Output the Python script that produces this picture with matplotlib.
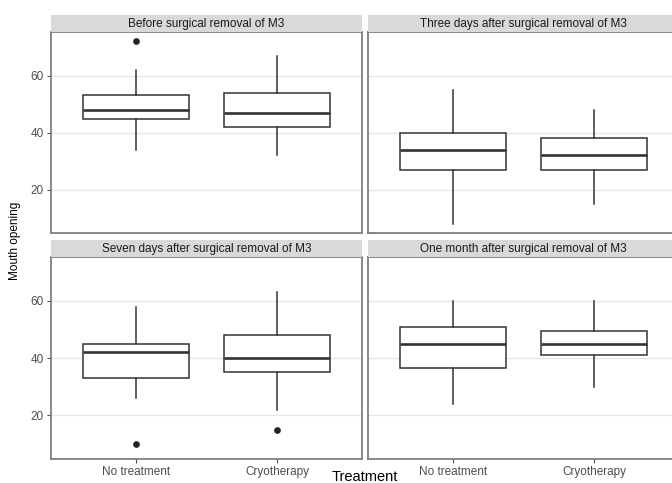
import matplotlib
matplotlib.use("Agg")
import matplotlib.pyplot as plt

# Panel titles and treatment groups
panels = ["Before surgical removal of M3",
          "Three days after surgical removal of M3",
          "Seven days after surgical removal of M3",
          "One month after surgical removal of M3"]
groups = ["No treatment", "Cryotherapy"]

# Box statistics per panel: [No treatment, Cryotherapy]
whislo = [[34, 32], [8, 15], [26, 22], [24, 30]]
q1 = [[44.8, 42], [27, 27], [33, 35], [36.7, 41]]
med = [[48, 47], [34, 32], [42, 40], [45, 45]]
q3 = [[53.3, 54], [40, 38], [45, 48], [51, 49.5]]
whishi = [[62, 67], [55, 48], [58, 63], [60, 60]]
fliers = [[[72], []], [[], []], [[10], [15]], [[], []]]

y_ticks = [20, 40, 60]
y_lim = (4.8, 75.2)

plt.rcParams['font.family'] = ['Liberation Sans', 'DejaVu Sans']

W, H = 672, 483
fig = plt.figure(figsize=(W / 100, H / 100), dpi=100)

# pixel layout: (top of strip, top of panel, bottom of panel)
col_x = [51, 368]
panel_w = 311
rows = [(15, 32.3, 233), (240, 257.3, 459)]

box_color = '#333333'
border_color = '#7f7f7f'

for i, title in enumerate(panels):
    r, c = divmod(i, 2)
    s_top, p_top, p_bot = rows[r]
    x0 = col_x[c]

    ax = fig.add_axes([x0 / W, 1 - p_bot / H, panel_w / W, (p_bot - p_top) / H])
    stats = []
    for g in range(2):
        stats.append(dict(whislo=whislo[i][g], q1=q1[i][g], med=med[i][g],
                          q3=q3[i][g], whishi=whishi[i][g], fliers=fliers[i][g],
                          label=groups[g]))
    ax.bxp(stats, positions=[1, 2], widths=0.75, showcaps=False, patch_artist=True,
           boxprops=dict(facecolor='white', edgecolor=box_color, linewidth=1.1),
           whiskerprops=dict(color=box_color, linewidth=1.1),
           medianprops=dict(color=box_color, linewidth=1.9),
           flierprops=dict(marker='o', markersize=3.8, markerfacecolor='#222222',
                           markeredgecolor='#222222'))
    ax.set_xlim(0.4, 2.6)
    ax.set_ylim(*y_lim)
    ax.set_yticks(y_ticks)
    ax.yaxis.grid(True, color='#e6e6e6', linewidth=1.0)
    ax.xaxis.grid(False)
    ax.set_axisbelow(True)
    for sp in ax.spines.values():
        sp.set_color(border_color)
        sp.set_linewidth(1.3)
    ax.tick_params(axis='both', colors='#4d4d4d', labelcolor='#4d4d4d',
                   labelsize=8.5, length=3, width=0.8)
    ax.tick_params(axis='x', pad=2)
    ax.tick_params(axis='y', pad=2)
    if r == 0:
        ax.tick_params(axis='x', length=0, labelbottom=False)
    else:
        ax.set_xticks([1, 2])
        ax.set_xticklabels(groups)
    if c == 1:
        ax.tick_params(axis='y', length=0, labelleft=False)

    # facet strip
    sax = fig.add_axes([x0 / W, 1 - p_top / H, panel_w / W, (p_top - s_top) / H])
    sax.set_facecolor('#d9d9d9')
    sax.set_xticks([])
    sax.set_yticks([])
    for sp in sax.spines.values():
        sp.set_visible(False)
    sax.text(0.5, 0.5, title, ha='center', va='center', fontsize=8.5,
             color='#1a1a1a', transform=sax.transAxes)

fig.text(15 / W, 1 - 241 / H, "Mouth opening", rotation=90, ha='center',
         va='center', fontsize=8.5, color='black')
fig.text(365 / W, 1 - 481 / H, "Treatment", ha='center', va='baseline',
         fontsize=10.5, color='black')

fig.savefig('out.png', dpi=100)
